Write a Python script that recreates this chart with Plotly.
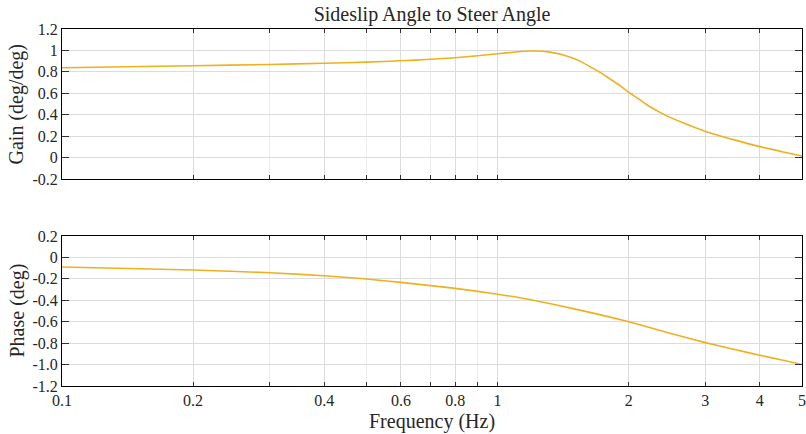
import plotly.graph_objects as go
from plotly.subplots import make_subplots

# ---- data ----
gain_freq = [0.1, 0.2, 0.3, 0.4, 0.5, 0.6, 0.7, 0.8, 0.9, 1.0, 1.1, 1.19, 1.25, 1.32,
             1.39, 1.47, 1.55, 1.63, 1.72, 1.81, 1.91, 2.0, 2.12, 2.24, 2.36, 2.49,
             2.63, 2.77, 3.0, 3.5, 4.0, 4.5, 5.0]
gain = [0.838, 0.857, 0.869, 0.880, 0.891, 0.903, 0.917, 0.932, 0.950, 0.969, 0.985,
        0.994, 0.994, 0.984, 0.966, 0.936, 0.898, 0.848, 0.795, 0.735, 0.672, 0.610,
        0.540, 0.474, 0.422, 0.375, 0.334, 0.298, 0.244, 0.165, 0.102, 0.055, 0.015]

phase_freq = [0.1, 0.2, 0.3, 0.4, 0.5, 0.6, 0.8, 1.0, 1.2, 1.5, 2.0, 2.5, 3.0, 3.5,
              4.0, 4.5, 5.0]
phase = [-0.090, -0.118, -0.143, -0.171, -0.202, -0.233, -0.289, -0.343, -0.397,
         -0.480, -0.600, -0.710, -0.795, -0.860, -0.913, -0.958, -1.000]

x_major = [0.1, 0.2, 0.4, 0.6, 0.8, 1, 2, 3, 4, 5]
x_major_text = ["0.1", "0.2", "0.4", "0.6", "0.8", "1", "2", "3", "4", "5"]
x_minor = [0.3, 0.5, 0.7, 0.9]

gain_ticks = [-0.2, 0, 0.2, 0.4, 0.6, 0.8, 1.0, 1.2]
gain_text = ["-0.2", "0", "0.2", "0.4", "0.6", "0.8", "1", "1.2"]
phase_ticks = [0.2, 0, -0.2, -0.4, -0.6, -0.8, -1.0, -1.2]
phase_text = ["0.2", "0", "-0.2", "-0.4", "-0.6", "-0.8", "-1.0", "-1.2"]

title = "Sideslip Angle to Steer Angle"
gain_label = "Gain (deg/deg)"
phase_label = "Phase (deg)"
x_label = "Frequency (Hz)"

LINE = "#EDB120"
FONT = "Liberation Serif"
TXT = "#262626"
GRID = "#dcdcdc"
MGRID = "#ececec"

W, H = 806, 434
ml, mr, mt, mb = 62, 4, 29, 48
ph = H - mt - mb
pw = W - ml - mr
top_dom = [(H - mb - 179) / ph, 1.0]
bot_dom = [0.0, (H - mb - 236) / ph]

fig = make_subplots(rows=2, cols=1)

line_style = dict(color=LINE, width=1.6, shape="spline", smoothing=0.6)
fig.add_trace(go.Scatter(x=gain_freq, y=gain, mode="lines", line=line_style,
                         showlegend=False, hoverinfo="x+y"), row=1, col=1)
fig.add_trace(go.Scatter(x=phase_freq, y=phase, mode="lines", line=line_style,
                         showlegend=False, hoverinfo="x+y"), row=2, col=1)

xcommon = dict(type="log", range=[-1, 0.69897], showline=True, linecolor="black", linewidth=1,
               mirror="ticks", ticks="inside", ticklen=4, tickcolor="#333333",
               tickmode="array", tickvals=x_major, ticktext=x_major_text,
               showgrid=True, gridcolor=GRID, gridwidth=1, zeroline=False, automargin=False,
               minor=dict(tickmode="array", tickvals=x_minor, ticks="inside", ticklen=4,
                          tickcolor="#333333", showgrid=True, gridcolor=MGRID, gridwidth=1),
               tickfont=dict(family=FONT, size=16, color=TXT))
ycommon = dict(showline=True, linecolor="black", linewidth=1, mirror="ticks", ticks="inside",
               ticklen=7, tickcolor="#333333", showgrid=True, gridcolor=GRID, gridwidth=1,
               zeroline=False, tickmode="array", automargin=False,
               tickfont=dict(family=FONT, size=16, color=TXT))

fig.update_layout(
    xaxis=dict(**xcommon, showticklabels=False, domain=[0, 1]),
    xaxis2=dict(**xcommon, showticklabels=True, domain=[0, 1]),
    yaxis=dict(**ycommon, range=[-0.2, 1.2], tickvals=gain_ticks, ticktext=gain_text, domain=top_dom),
    yaxis2=dict(**ycommon, range=[-1.2, 0.2], tickvals=phase_ticks, ticktext=phase_text, domain=bot_dom),
)

fig.update_layout(
    width=W, height=H,
    margin=dict(l=ml, r=mr, t=mt, b=mb, autoexpand=False),
    paper_bgcolor="white", plot_bgcolor="white",
    font=dict(family=FONT, size=16, color=TXT),
    title=dict(text=title, x=(ml + (W - mr)) / 2 / W, xanchor="center", y=1 - 14 / H, yanchor="middle",
               font=dict(family=FONT, size=20, color=TXT)),
    annotations=[
        dict(text=gain_label, textangle=-90, xref="paper", yref="paper", x=-(62 - 16.5) / pw,
             y=(top_dom[0] + top_dom[1]) / 2, xanchor="center", yanchor="middle", showarrow=False,
             font=dict(family=FONT, size=20, color=TXT)),
        dict(text=phase_label, textangle=-90, xref="paper", yref="paper", x=-(62 - 16.5) / pw,
             y=(bot_dom[0] + bot_dom[1]) / 2, xanchor="center", yanchor="middle", showarrow=False,
             font=dict(family=FONT, size=20, color=TXT)),
        dict(text=x_label, xref="paper", yref="paper", x=(432 - ml) / pw, y=-(421 - (H - mb)) / ph,
             xanchor="center", yanchor="middle", showarrow=False, font=dict(family=FONT, size=20, color=TXT)),
    ],
)

fig.write_html("out.html")
